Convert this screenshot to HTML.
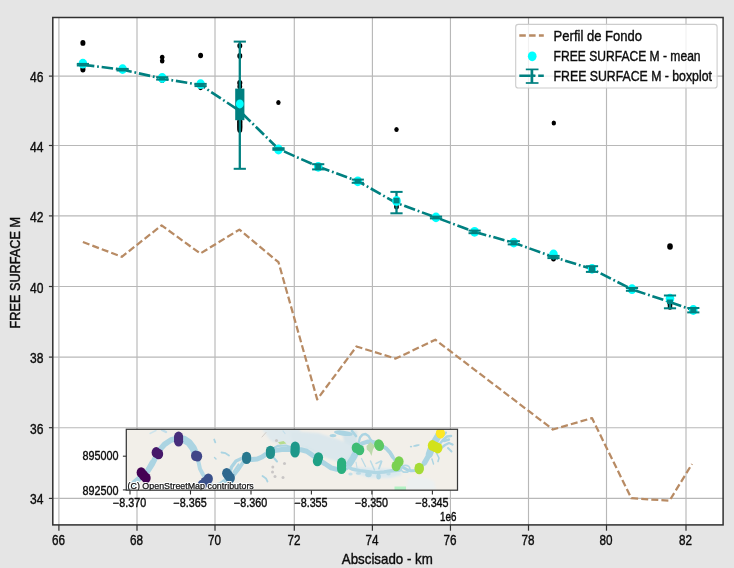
<!DOCTYPE html>
<html><head><meta charset="utf-8"><title>FREE SURFACE M</title>
<style>
html,body{margin:0;padding:0;background:#e5e5e5;}
body{width:734px;height:568px;overflow:hidden;font-family:"Liberation Sans",sans-serif;}
svg{display:block;}
</style></head><body>
<svg width="734" height="568" viewBox="0 0 734 568" font-family="Liberation Sans, sans-serif">
<defs><filter id="soft" x="0" y="0" width="100%" height="100%" filterUnits="userSpaceOnUse" color-interpolation-filters="sRGB"><feGaussianBlur stdDeviation="0.55 0.5"/></filter></defs>
<rect x="0" y="0" width="734" height="568" fill="#e5e5e5"/>
<g filter="url(#soft)">
<rect x="-5" y="-5" width="744" height="578" fill="#e5e5e5"/>
<rect x="52.8" y="17.5" width="670.3000000000001" height="507.4" fill="#ffffff"/>
<g stroke="#b8b8b8" stroke-width="1.15" fill="none">
<line x1="58.90" y1="17.5" x2="58.90" y2="524.9"/>
<line x1="137.00" y1="17.5" x2="137.00" y2="524.9"/>
<line x1="215.00" y1="17.5" x2="215.00" y2="524.9"/>
<line x1="294.30" y1="17.5" x2="294.30" y2="524.9"/>
<line x1="372.40" y1="17.5" x2="372.40" y2="524.9"/>
<line x1="450.45" y1="17.5" x2="450.45" y2="524.9"/>
<line x1="528.50" y1="17.5" x2="528.50" y2="524.9"/>
<line x1="606.50" y1="17.5" x2="606.50" y2="524.9"/>
<line x1="686.00" y1="17.5" x2="686.00" y2="524.9"/>
<line x1="52.8" y1="498.40" x2="723.1" y2="498.40"/>
<line x1="52.8" y1="427.70" x2="723.1" y2="427.70"/>
<line x1="52.8" y1="357.10" x2="723.1" y2="357.10"/>
<line x1="52.8" y1="286.50" x2="723.1" y2="286.50"/>
<line x1="52.8" y1="215.90" x2="723.1" y2="215.90"/>
<line x1="52.8" y1="145.50" x2="723.1" y2="145.50"/>
<line x1="52.8" y1="76.10" x2="723.1" y2="76.10"/>
</g>
<polyline points="82.9,242.0 121.8,256.8 161.6,225.4 200.3,253.5 239.4,229.6 278.5,262.2 317.2,399.4 356.5,346.5 395.7,358.6 435.3,339.7 552.9,429.5 592.0,418.1 631.3,498.2 669.5,500.7 692.0,464.0" fill="none" stroke="#b88b64" stroke-width="2.25" stroke-dasharray="7.0 3.1" stroke-linejoin="round"/>
<g fill="#000000">
<ellipse cx="82.9" cy="42.9" rx="2.55" ry="2.9"/>
<ellipse cx="82.9" cy="69.6" rx="2.55" ry="2.9"/>
<ellipse cx="82.9" cy="67.6" rx="2.38" ry="2.7"/>
<ellipse cx="162.2" cy="57.3" rx="2.29" ry="2.6"/>
<ellipse cx="162.2" cy="61.0" rx="2.29" ry="2.6"/>
<ellipse cx="162.2" cy="80.4" rx="2.29" ry="2.6"/>
<ellipse cx="200.6" cy="55.5" rx="2.46" ry="2.8"/>
<ellipse cx="200.6" cy="87.6" rx="2.29" ry="2.6"/>
<ellipse cx="239.8" cy="45.8" rx="2.46" ry="2.8"/>
<ellipse cx="239.8" cy="55.9" rx="2.46" ry="2.8"/>
<ellipse cx="239.8" cy="82.8" rx="2.55" ry="2.9"/>
<ellipse cx="239.8" cy="86.5" rx="2.38" ry="2.7"/>
<ellipse cx="239.8" cy="121.5" rx="2.64" ry="3.0"/>
<ellipse cx="239.8" cy="123.7" rx="2.64" ry="3.0"/>
<ellipse cx="239.8" cy="126.0" rx="2.64" ry="3.0"/>
<ellipse cx="239.8" cy="128.0" rx="2.55" ry="2.9"/>
<ellipse cx="239.8" cy="129.9" rx="2.46" ry="2.8"/>
<ellipse cx="278.4" cy="102.6" rx="2.20" ry="2.5"/>
<ellipse cx="396.5" cy="129.4" rx="2.20" ry="2.5"/>
<ellipse cx="396.5" cy="206.8" rx="2.38" ry="2.7"/>
<ellipse cx="553.8" cy="122.9" rx="2.20" ry="2.5"/>
<ellipse cx="553.5" cy="258.8" rx="2.38" ry="2.7"/>
<ellipse cx="670.0" cy="246.5" rx="2.82" ry="3.2"/>
<ellipse cx="670.0" cy="304.4" rx="2.38" ry="2.7"/>
<ellipse cx="670.0" cy="307.2" rx="2.29" ry="2.6"/>
</g>
<g stroke="#008080" fill="none">
<line x1="82.9" y1="63.9" x2="82.9" y2="65.5" stroke-width="2.3"/>
<line x1="122.6" y1="68.9" x2="122.6" y2="70.5" stroke-width="2.3"/>
<line x1="162.2" y1="77.2" x2="162.2" y2="79.6" stroke-width="2.3"/>
<line x1="200.6" y1="83.9" x2="200.6" y2="86.1" stroke-width="2.3"/>
<line x1="239.8" y1="41.6" x2="239.8" y2="168.8" stroke-width="2.3"/>
<line x1="278.5" y1="148.2" x2="278.5" y2="149.8" stroke-width="2.3"/>
<line x1="318.2" y1="164.2" x2="318.2" y2="169.4" stroke-width="2.3"/>
<line x1="357.8" y1="179.6" x2="357.8" y2="182.8" stroke-width="2.3"/>
<line x1="396.5" y1="191.9" x2="396.5" y2="213.3" stroke-width="2.3"/>
<line x1="436.0" y1="216.6" x2="436.0" y2="218.4" stroke-width="2.3"/>
<line x1="474.6" y1="230.6" x2="474.6" y2="233.2" stroke-width="2.3"/>
<line x1="513.8" y1="241.2" x2="513.8" y2="244.4" stroke-width="2.3"/>
<line x1="553.5" y1="255.9" x2="553.5" y2="258.1" stroke-width="2.3"/>
<line x1="592.0" y1="266.2" x2="592.0" y2="271.9" stroke-width="2.3"/>
<line x1="632.0" y1="288.0" x2="632.0" y2="290.8" stroke-width="2.3"/>
<line x1="670.0" y1="295.5" x2="670.0" y2="308.3" stroke-width="2.3"/>
<line x1="693.3" y1="308.0" x2="693.3" y2="312.4" stroke-width="2.3"/>
</g>
<polyline points="82.9,64.7 122.6,69.7 162.2,78.6 200.6,85.0 239.8,111.0 278.5,149.0 318.2,166.6 357.8,181.2 396.5,203.0 436.0,217.5 474.6,231.9 513.8,242.8 553.5,257.0 592.0,269.0 632.0,289.4 670.0,302.1 693.3,310.2" fill="none" stroke="#008080" stroke-width="2.6" stroke-dasharray="11.5 2.8 1.8 2.8" stroke-linejoin="round"/>
<g stroke="#008080" fill="none">
<line x1="239.8" y1="88.6" x2="239.8" y2="120.2" stroke-width="9.2"/>
</g>
<g fill="#00ffff">
<ellipse cx="82.9" cy="63.7" rx="4.3" ry="4.9"/>
<ellipse cx="122.6" cy="69.1" rx="4.3" ry="4.9"/>
<ellipse cx="162.2" cy="78.0" rx="4.3" ry="4.9"/>
<ellipse cx="200.6" cy="84.2" rx="4.3" ry="4.9"/>
<ellipse cx="239.8" cy="103.9" rx="3.9" ry="4.5"/>
<ellipse cx="278.5" cy="149.5" rx="4.3" ry="4.9"/>
<ellipse cx="318.2" cy="166.8" rx="4.3" ry="4.9"/>
<ellipse cx="357.8" cy="181.3" rx="4.3" ry="4.9"/>
<ellipse cx="396.5" cy="201.0" rx="4.3" ry="4.9"/>
<ellipse cx="436.0" cy="217.4" rx="4.3" ry="4.9"/>
<ellipse cx="474.6" cy="231.8" rx="4.3" ry="4.9"/>
<ellipse cx="513.8" cy="242.6" rx="4.3" ry="4.9"/>
<ellipse cx="553.5" cy="254.5" rx="4.3" ry="4.9"/>
<ellipse cx="592.0" cy="268.8" rx="4.3" ry="4.9"/>
<ellipse cx="632.0" cy="289.2" rx="4.3" ry="4.9"/>
<ellipse cx="670.0" cy="298.6" rx="4.3" ry="4.9"/>
<ellipse cx="693.3" cy="310.0" rx="4.3" ry="4.9"/>
</g>
<g stroke="#008585" fill="none">
<line x1="82.9" y1="64.0" x2="82.9" y2="65.4" stroke-width="6.0"/>
<line x1="122.6" y1="69.0" x2="122.6" y2="70.4" stroke-width="6.0"/>
<line x1="162.2" y1="77.4" x2="162.2" y2="79.4" stroke-width="6.0"/>
<line x1="200.6" y1="84.0" x2="200.6" y2="86.0" stroke-width="6.0"/>
<line x1="278.5" y1="148.3" x2="278.5" y2="149.7" stroke-width="6.0"/>
<line x1="318.2" y1="164.6" x2="318.2" y2="169.0" stroke-width="6.0"/>
<line x1="357.8" y1="179.9" x2="357.8" y2="182.5" stroke-width="6.0"/>
<line x1="396.5" y1="197.8" x2="396.5" y2="203.4" stroke-width="6.0"/>
<line x1="436.0" y1="216.7" x2="436.0" y2="218.3" stroke-width="6.0"/>
<line x1="474.6" y1="230.8" x2="474.6" y2="233.0" stroke-width="6.0"/>
<line x1="513.8" y1="241.4" x2="513.8" y2="244.2" stroke-width="6.0"/>
<line x1="553.5" y1="256.0" x2="553.5" y2="258.0" stroke-width="6.0"/>
<line x1="592.0" y1="266.6" x2="592.0" y2="271.5" stroke-width="6.0"/>
<line x1="632.0" y1="288.2" x2="632.0" y2="290.6" stroke-width="6.0"/>
<line x1="670.0" y1="299.5" x2="670.0" y2="304.0" stroke-width="6.0"/>
<line x1="693.3" y1="308.3" x2="693.3" y2="312.1" stroke-width="6.0"/>
</g>
<g stroke="#008080" stroke-width="2.0" fill="none">
<line x1="76.80000000000001" y1="63.9" x2="89.0" y2="63.9"/>
<line x1="76.80000000000001" y1="65.5" x2="89.0" y2="65.5"/>
<line x1="116.5" y1="68.9" x2="128.7" y2="68.9"/>
<line x1="116.5" y1="70.5" x2="128.7" y2="70.5"/>
<line x1="156.1" y1="77.2" x2="168.29999999999998" y2="77.2"/>
<line x1="156.1" y1="79.6" x2="168.29999999999998" y2="79.6"/>
<line x1="194.5" y1="83.9" x2="206.7" y2="83.9"/>
<line x1="194.5" y1="86.1" x2="206.7" y2="86.1"/>
<line x1="233.70000000000002" y1="41.6" x2="245.9" y2="41.6"/>
<line x1="233.70000000000002" y1="168.8" x2="245.9" y2="168.8"/>
<line x1="272.4" y1="148.2" x2="284.6" y2="148.2"/>
<line x1="272.4" y1="149.8" x2="284.6" y2="149.8"/>
<line x1="312.09999999999997" y1="164.2" x2="324.3" y2="164.2"/>
<line x1="312.09999999999997" y1="169.4" x2="324.3" y2="169.4"/>
<line x1="351.7" y1="179.6" x2="363.90000000000003" y2="179.6"/>
<line x1="351.7" y1="182.8" x2="363.90000000000003" y2="182.8"/>
<line x1="390.4" y1="191.9" x2="402.6" y2="191.9"/>
<line x1="390.4" y1="213.3" x2="402.6" y2="213.3"/>
<line x1="429.9" y1="216.6" x2="442.1" y2="216.6"/>
<line x1="429.9" y1="218.4" x2="442.1" y2="218.4"/>
<line x1="468.5" y1="230.6" x2="480.70000000000005" y2="230.6"/>
<line x1="468.5" y1="233.2" x2="480.70000000000005" y2="233.2"/>
<line x1="507.69999999999993" y1="241.2" x2="519.9" y2="241.2"/>
<line x1="507.69999999999993" y1="244.4" x2="519.9" y2="244.4"/>
<line x1="547.4" y1="255.9" x2="559.6" y2="255.9"/>
<line x1="547.4" y1="258.1" x2="559.6" y2="258.1"/>
<line x1="585.9" y1="266.2" x2="598.1" y2="266.2"/>
<line x1="585.9" y1="271.9" x2="598.1" y2="271.9"/>
<line x1="625.9" y1="288.0" x2="638.1" y2="288.0"/>
<line x1="625.9" y1="290.8" x2="638.1" y2="290.8"/>
<line x1="663.9" y1="295.5" x2="676.1" y2="295.5"/>
<line x1="663.9" y1="308.3" x2="676.1" y2="308.3"/>
<line x1="687.1999999999999" y1="308.0" x2="699.4" y2="308.0"/>
<line x1="687.1999999999999" y1="312.4" x2="699.4" y2="312.4"/>
</g>
<clipPath id="insetclip"><rect x="126.3" y="429.3" width="331.2" height="60.89999999999998"/></clipPath>
<g clip-path="url(#insetclip)">
<rect x="126.3" y="429.3" width="331.2" height="60.89999999999998" fill="#f2efe9"/>
<filter id="wsoft" x="100" y="400" width="400" height="120" filterUnits="userSpaceOnUse"><feGaussianBlur stdDeviation="1.3"/></filter>
<filter id="nsoft" x="100" y="400" width="400" height="120" filterUnits="userSpaceOnUse"><feGaussianBlur stdDeviation="0.5"/></filter>
<g filter="url(#wsoft)">
<ellipse cx="286" cy="437.2" rx="17" ry="6.4" fill="#d0dfe7"/>
<polygon points="262,429 300,429 302,442 290,445 270,440" fill="#dfe9ed"/>
<polygon points="298,441 310,445 330,453 348,452 354,442 356,458 346,464 330,459 312,452 300,447" fill="#d8e6eb"/>
<polygon points="342,431 357,431 357,458 349,460 345,448" fill="#d5e4ea"/>
<polygon points="408,478 420,476 434,481 436,490 406,490" fill="#ecf0f0"/>
<polygon points="354,467 398,469 402,475 390,478 370,478 354,473" fill="#dbe9ef"/>
<polygon points="290,431 318,433 340,440 352,446 350,456 336,460 322,455 308,446 292,443" fill="#dbe7ec"/>
</g>
<polyline points="126.5,490.5 133.2,483.6 141,477 147.3,471.6 152,464.5 155.9,456.7 160,449.5 164.5,444.4 171,440 178,438.3 184,439.5 189,442.6 193,448 196.3,455.4" fill="none" stroke="#abd4e2" stroke-width="5.6" stroke-linecap="round" stroke-linejoin="round" />
<polyline points="196.3,455.4 198.5,462 200,468.9 203,474.5 206.2,479.5 209.5,484.5" fill="none" stroke="#b2d8e5" stroke-width="4.0" stroke-linecap="round" stroke-linejoin="round" />
<polyline points="209.5,484.5 214,486.5 220.5,484.5 226,480 229,475" fill="none" stroke="#abd4e2" stroke-width="4.6" stroke-linecap="round" stroke-linejoin="round" />
<polyline points="184,439.5 189,442.6 193,448 196.3,455.4" fill="none" stroke="#abd4e2" stroke-width="7.4" stroke-linecap="round" stroke-linejoin="round" />
<polyline points="140,480 146,470 151,461" fill="none" stroke="#abd4e2" stroke-width="1.6" stroke-linecap="round" stroke-linejoin="round" />
<polyline points="229,475 231.5,467 236,461 242,458.3 246.6,458" fill="none" stroke="#abd4e2" stroke-width="3.4" stroke-linecap="round" stroke-linejoin="round" />
<polyline points="232,477.5 238,470 243,462.5 246.6,458.5" fill="none" stroke="#abd4e2" stroke-width="3.6" stroke-linecap="round" stroke-linejoin="round" />
<polyline points="233.5,472 238.5,464.5" fill="none" stroke="#abd4e2" stroke-width="2.2" stroke-linecap="round" stroke-linejoin="round" />
<polyline points="246.6,458 252,459.6 257.3,459 262,457 266,454.2 270.4,452.4 276,450.2 281.8,449.4 288,449.2 295,449.6 301,449.8 306.7,451.2 312.8,455.4 318,459.3 322,462 325,463.7 331.2,467.9 336,469.2 339.8,469.2 345,467.7 348.3,465.2 351,461.5 353.2,457.9 355.5,453.5 356.9,450.5 358,448" fill="none" stroke="#abd4e2" stroke-width="5.0" stroke-linecap="round" stroke-linejoin="round" />
<polyline points="339.8,469.2 345,467.7 348.3,465.2 351,461.5 353.2,457.9 355.5,453.5 356.9,450.5" fill="none" stroke="#abd4e2" stroke-width="6.6" stroke-linecap="round" stroke-linejoin="round" />
<polyline points="272,449 278,445.8 286,445.5 292,447.5" fill="none" stroke="#abd4e2" stroke-width="2.2" stroke-linecap="round" stroke-linejoin="round" />
<polyline points="358,448 358.8,442 360,437.5 362.5,434.6 365.5,434 368.5,436 370.8,440 373.5,442.5" fill="none" stroke="#abd4e2" stroke-width="2.4" stroke-linecap="round" stroke-linejoin="round" />
<polyline points="358,448 362,443.4 368,441.6 374,442.4 379.1,445.2" fill="none" stroke="#abd4e2" stroke-width="4.2" stroke-linecap="round" stroke-linejoin="round" />
<polyline points="379.1,445.2 383,446.5 386.5,448.7 390,452.5 392.6,456.7 395,460.5 397.5,463.8 400.5,466 403.6,467.7 407,469.6 411,470.8 415,470.6 419.2,468.5" fill="none" stroke="#abd4e2" stroke-width="3.0" stroke-linecap="round" stroke-linejoin="round" />
<polyline points="383,446.5 386.5,448.7 390,452.5 392.6,456.7" fill="none" stroke="#abd4e2" stroke-width="3.8" stroke-linecap="round" stroke-linejoin="round" />
<polyline points="419.2,468.5 422,466 424.5,462.8" fill="none" stroke="#abd4e2" stroke-width="3.4" stroke-linecap="round" stroke-linejoin="round" />
<polyline points="424.5,462.8 427,458.5 429.4,454.2" fill="none" stroke="#abd4e2" stroke-width="5.4" stroke-linecap="round" stroke-linejoin="round" />
<polyline points="429.4,454.2 431,449.5 432.8,445.6 435.5,440.5 438.5,435.5 440.4,433" fill="none" stroke="#abd4e2" stroke-width="7.2" stroke-linecap="round" stroke-linejoin="round" />
<polyline points="438,446 443,440 447,436.5 451,436" fill="none" stroke="#abd4e2" stroke-width="2.6" stroke-linecap="round" stroke-linejoin="round" />
<polyline points="440,449 445,445 449,443 452.5,444.5" fill="none" stroke="#abd4e2" stroke-width="2.4" stroke-linecap="round" stroke-linejoin="round" />
<polyline points="443,436 446,432.5" fill="none" stroke="#abd4e2" stroke-width="2.2" stroke-linecap="round" stroke-linejoin="round" />
<polyline points="448,448 451.5,451.5" fill="none" stroke="#abd4e2" stroke-width="2.0" stroke-linecap="round" stroke-linejoin="round" />
<polyline points="444,441 449,439.5" fill="none" stroke="#abd4e2" stroke-width="2.4" stroke-linecap="round" stroke-linejoin="round" />
<polyline points="436,452 439,458 438,461.5" fill="none" stroke="#abd4e2" stroke-width="1.6" stroke-linecap="round" stroke-linejoin="round" />
<polyline points="432,459 433.5,464" fill="none" stroke="#abd4e2" stroke-width="1.4" stroke-linecap="round" stroke-linejoin="round" />
<g filter="url(#nsoft)">
<polyline points="346,466.3 352,469 360,470.6 368,471.6 376,472.6 384,472 392,470.8 400,470" fill="none" stroke="#b1d7e4" stroke-width="3.4" stroke-linecap="round" stroke-linejoin="round" />
<ellipse cx="368.5" cy="474.6" rx="3.3" ry="2.6" fill="#b1d7e4"/>
<ellipse cx="378.6" cy="476.4" rx="2.3" ry="3.0" fill="#b1d7e4"/>
<ellipse cx="358.5" cy="473.2" rx="2.6" ry="1.5" fill="#bcdce7"/>
<ellipse cx="350.5" cy="474.0" rx="2.2" ry="1.6" fill="#c3dfe8"/>
<ellipse cx="388.5" cy="474.0" rx="2.2" ry="1.4" fill="#bcdce7"/>
<polyline points="361.5,458.5 365.5,466.5" fill="none" stroke="#b9dbe6" stroke-width="1.3" stroke-linecap="round" stroke-linejoin="round" />
<polyline points="370.5,461 374.5,470" fill="none" stroke="#b9dbe6" stroke-width="1.5" stroke-linecap="round" stroke-linejoin="round" />
<polyline points="381.5,461.5 379,468.5" fill="none" stroke="#b3d8e5" stroke-width="1.9" stroke-linecap="round" stroke-linejoin="round" />
<polyline points="376,463.5 381,461" fill="none" stroke="#b9dbe6" stroke-width="1.5" stroke-linecap="round" stroke-linejoin="round" />
<polyline points="356,462 357,468" fill="none" stroke="#c3dfe8" stroke-width="1.2" stroke-linecap="round" stroke-linejoin="round" />
<ellipse cx="405.5" cy="468.8" rx="4.4" ry="3.4" fill="none" stroke="#b1d7e4" stroke-width="1.7"/>
</g>
<ellipse cx="343.4" cy="433.2" rx="9.5" ry="2.6" fill="#abd4e2" transform="rotate(8 343.4 433.2)"/>
<ellipse cx="333" cy="435.6" rx="3.4" ry="1.6" fill="#abd4e2"/>
<polyline points="221.5,452.5 225.5,453.2 229,455.5" fill="none" stroke="#abd4e2" stroke-width="1.8" stroke-linecap="round" stroke-linejoin="round" />
<polyline points="214.2,439.5 215.3,442.4" fill="none" stroke="#abd4e2" stroke-width="1.8" stroke-linecap="round" stroke-linejoin="round" />
<polyline points="262.5,476 266,478.5 267.5,481.5" fill="none" stroke="#abd4e2" stroke-width="1.8" stroke-linecap="round" stroke-linejoin="round" />
<polyline points="214.5,457.5 216,459" fill="none" stroke="#abd4e2" stroke-width="1.4" stroke-linecap="round" stroke-linejoin="round" />
<polyline points="274,458 277,461.5" fill="none" stroke="#abd4e2" stroke-width="2.0" stroke-linecap="round" stroke-linejoin="round" />
<ellipse cx="416.5" cy="445.5" rx="3.4" ry="1.1" fill="#abd4e2" transform="rotate(-12 416.5 445.5)"/>
<ellipse cx="411" cy="446.6" rx="1.2" ry="0.9" fill="#abd4e2"/>
<polyline points="162,430 166,432" fill="none" stroke="#c2deea" stroke-width="2.4" stroke-linecap="round" stroke-linejoin="round" />
<polyline points="156,430.5 150,433.5" fill="none" stroke="#cfe4ec" stroke-width="1.4" stroke-linecap="round" stroke-linejoin="round" />
<polyline points="283,431 285,433.5" fill="none" stroke="#c2deea" stroke-width="1.2" stroke-linecap="round" stroke-linejoin="round" />
<polyline points="352,431 356,436" fill="none" stroke="#abd4e2" stroke-width="2.6" stroke-linecap="round" stroke-linejoin="round" />
<polygon points="366.5,446 370.5,442 375,446 373,449.5 371.5,456 369.5,452 366.8,449.5" fill="#bcd9ab"/>
<polygon points="278,442.2 283.5,441 286.5,443.6 280,444.4" fill="#b6dc8e"/>
<polygon points="394.5,486.6 406,486.6 406,490.5 394.5,490.5" fill="#b3f2c4"/>
<ellipse cx="272.5" cy="472" rx="1.5" ry="1.6" fill="#c9c6c6"/>
<ellipse cx="275" cy="476.5" rx="1.5" ry="1.6" fill="#c9c6c6"/>
<ellipse cx="284.5" cy="463.5" rx="1.5" ry="1.6" fill="#c9c6c6"/>
<ellipse cx="272.8" cy="467" rx="1.5" ry="1.6" fill="#c9c6c6"/>
<ellipse cx="283" cy="477.5" rx="1.5" ry="1.6" fill="#c9c6c6"/>
<ellipse cx="276.5" cy="440.5" rx="1.5" ry="1.6" fill="#c9c6c6"/>
<polyline points="262,437 266,432.5" fill="none" stroke="#cfcac4" stroke-width="0.9" stroke-linecap="round" stroke-linejoin="round" />
<ellipse cx="141.2" cy="472.6" rx="4.6" ry="5.3" fill="#440154"/>
<ellipse cx="143.7" cy="475.4" rx="4.6" ry="5.3" fill="#440154"/>
<ellipse cx="146.1" cy="478.1" rx="4.6" ry="5.3" fill="#440154"/>
<ellipse cx="156.2" cy="452.4" rx="4.6" ry="5.3" fill="#46186a"/>
<ellipse cx="158.6" cy="454.0" rx="4.6" ry="5.3" fill="#46186a"/>
<ellipse cx="178.6" cy="436.9" rx="4.6" ry="5.3" fill="#472d7b"/>
<ellipse cx="178.6" cy="439.0" rx="4.6" ry="5.3" fill="#472d7b"/>
<ellipse cx="178.6" cy="441.2" rx="4.6" ry="5.3" fill="#472d7b"/>
<ellipse cx="195.6" cy="455.8" rx="4.6" ry="5.3" fill="#404688"/>
<ellipse cx="197.6" cy="456.2" rx="4.6" ry="5.3" fill="#404688"/>
<ellipse cx="208.3" cy="478.7" rx="4.6" ry="5.3" fill="#3b518b"/>
<ellipse cx="205.2" cy="482.0" rx="4.6" ry="5.3" fill="#3b518b"/>
<ellipse cx="202.3" cy="484.8" rx="4.6" ry="5.3" fill="#3b518b"/>
<ellipse cx="226.7" cy="473.2" rx="4.6" ry="5.3" fill="#30688e"/>
<ellipse cx="228.5" cy="475.6" rx="4.6" ry="5.3" fill="#30688e"/>
<ellipse cx="230.3" cy="478.1" rx="4.6" ry="5.3" fill="#30688e"/>
<ellipse cx="246.6" cy="457.0" rx="4.6" ry="5.3" fill="#29788e"/>
<ellipse cx="246.6" cy="458.8" rx="4.6" ry="5.3" fill="#29788e"/>
<ellipse cx="270.4" cy="451.0" rx="4.6" ry="5.3" fill="#21908c"/>
<ellipse cx="270.4" cy="453.8" rx="4.6" ry="5.3" fill="#21908c"/>
<ellipse cx="295.2" cy="446.7" rx="4.6" ry="5.3" fill="#1e988a"/>
<ellipse cx="295.1" cy="449.5" rx="4.6" ry="5.3" fill="#1e988a"/>
<ellipse cx="295.0" cy="452.2" rx="4.6" ry="5.3" fill="#1e988a"/>
<ellipse cx="318.5" cy="457.6" rx="4.6" ry="5.3" fill="#20a186"/>
<ellipse cx="317.4" cy="461.0" rx="4.6" ry="5.3" fill="#20a186"/>
<ellipse cx="341.6" cy="462.9" rx="4.6" ry="5.3" fill="#2ab07f"/>
<ellipse cx="341.6" cy="465.8" rx="4.6" ry="5.3" fill="#2ab07f"/>
<ellipse cx="341.6" cy="468.7" rx="4.6" ry="5.3" fill="#2ab07f"/>
<ellipse cx="356.3" cy="447.8" rx="4.6" ry="5.3" fill="#3dbc74"/>
<ellipse cx="359.7" cy="450.0" rx="4.6" ry="5.3" fill="#3dbc74"/>
<ellipse cx="378.7" cy="444.6" rx="4.6" ry="5.3" fill="#5cc863"/>
<ellipse cx="379.5" cy="445.8" rx="4.6" ry="5.3" fill="#5cc863"/>
<ellipse cx="399.0" cy="461.6" rx="4.6" ry="5.3" fill="#7ad151"/>
<ellipse cx="396.2" cy="466.0" rx="4.6" ry="5.3" fill="#7ad151"/>
<ellipse cx="419.2" cy="468.0" rx="4.6" ry="5.3" fill="#a5db36"/>
<ellipse cx="419.2" cy="469.0" rx="4.6" ry="5.3" fill="#a5db36"/>
<ellipse cx="432.4" cy="445.4" rx="4.6" ry="5.3" fill="#d2e21b"/>
<ellipse cx="435.1" cy="446.8" rx="4.6" ry="5.3" fill="#d2e21b"/>
<ellipse cx="437.8" cy="448.1" rx="4.6" ry="5.3" fill="#d2e21b"/>
<ellipse cx="440.4" cy="433.2" rx="4.6" ry="5.3" fill="#fde725"/>
<text x="127.6" y="489.4" font-size="8.7" fill="#ffffff" stroke="#ffffff" stroke-width="2.2" stroke-linejoin="round" textLength="126.2" lengthAdjust="spacingAndGlyphs">(C) OpenStreetMap contributors</text>
<text x="127.6" y="489.4" font-size="8.7" fill="#111111" stroke="#111111" stroke-width="0.25" textLength="126.2" lengthAdjust="spacingAndGlyphs">(C) OpenStreetMap contributors</text>
</g>
<rect x="126.3" y="429.3" width="331.2" height="60.89999999999998" fill="none" stroke="#383838" stroke-width="1.25"/>
<g stroke="#303030" stroke-width="1.1">
<line x1="130.0" y1="490.2" x2="130.0" y2="494.5"/>
<line x1="190.5" y1="490.2" x2="190.5" y2="494.5"/>
<line x1="251.0" y1="490.2" x2="251.0" y2="494.5"/>
<line x1="311.4" y1="490.2" x2="311.4" y2="494.5"/>
<line x1="371.9" y1="490.2" x2="371.9" y2="494.5"/>
<line x1="432.4" y1="490.2" x2="432.4" y2="494.5"/>
<line x1="126.3" y1="456.2" x2="122.89999999999999" y2="456.2"/>
<line x1="126.3" y1="489.9" x2="122.89999999999999" y2="489.9"/>
</g>
<text x="129.60" y="507.20" font-size="11.9" text-anchor="middle" fill="#0c0c0c" stroke="#0c0c0c" stroke-width="0.38" textLength="33.2" lengthAdjust="spacingAndGlyphs">−8.370</text>
<text x="190.10" y="507.20" font-size="11.9" text-anchor="middle" fill="#0c0c0c" stroke="#0c0c0c" stroke-width="0.38" textLength="33.2" lengthAdjust="spacingAndGlyphs">−8.365</text>
<text x="250.60" y="507.20" font-size="11.9" text-anchor="middle" fill="#0c0c0c" stroke="#0c0c0c" stroke-width="0.38" textLength="33.2" lengthAdjust="spacingAndGlyphs">−8.360</text>
<text x="311.00" y="507.20" font-size="11.9" text-anchor="middle" fill="#0c0c0c" stroke="#0c0c0c" stroke-width="0.38" textLength="33.2" lengthAdjust="spacingAndGlyphs">−8.355</text>
<text x="371.50" y="507.20" font-size="11.9" text-anchor="middle" fill="#0c0c0c" stroke="#0c0c0c" stroke-width="0.38" textLength="33.2" lengthAdjust="spacingAndGlyphs">−8.350</text>
<text x="432.00" y="507.20" font-size="11.9" text-anchor="middle" fill="#0c0c0c" stroke="#0c0c0c" stroke-width="0.38" textLength="33.2" lengthAdjust="spacingAndGlyphs">−8.345</text>
<text x="118.40" y="460.40" font-size="11.9" text-anchor="end" fill="#0c0c0c" stroke="#0c0c0c" stroke-width="0.38" textLength="36.0" lengthAdjust="spacingAndGlyphs">895000</text>
<text x="118.40" y="494.70" font-size="11.9" text-anchor="end" fill="#0c0c0c" stroke="#0c0c0c" stroke-width="0.38" textLength="36.0" lengthAdjust="spacingAndGlyphs">892500</text>
<text x="456.40" y="520.80" font-size="11.9" text-anchor="end" fill="#0c0c0c" stroke="#0c0c0c" stroke-width="0.38" textLength="16.3" lengthAdjust="spacingAndGlyphs">1e6</text>
<rect x="52.8" y="17.5" width="670.3000000000001" height="507.4" fill="none" stroke="#303030" stroke-width="1.5"/>
<g stroke="#303030" stroke-width="1.2">
<line x1="58.90" y1="524.9" x2="58.90" y2="530.6999999999999"/>
<line x1="137.00" y1="524.9" x2="137.00" y2="530.6999999999999"/>
<line x1="215.00" y1="524.9" x2="215.00" y2="530.6999999999999"/>
<line x1="294.30" y1="524.9" x2="294.30" y2="530.6999999999999"/>
<line x1="372.40" y1="524.9" x2="372.40" y2="530.6999999999999"/>
<line x1="450.45" y1="524.9" x2="450.45" y2="530.6999999999999"/>
<line x1="528.50" y1="524.9" x2="528.50" y2="530.6999999999999"/>
<line x1="606.50" y1="524.9" x2="606.50" y2="530.6999999999999"/>
<line x1="686.00" y1="524.9" x2="686.00" y2="530.6999999999999"/>
<line x1="52.8" y1="498.40" x2="48.9" y2="498.40"/>
<line x1="52.8" y1="427.70" x2="48.9" y2="427.70"/>
<line x1="52.8" y1="357.10" x2="48.9" y2="357.10"/>
<line x1="52.8" y1="286.50" x2="48.9" y2="286.50"/>
<line x1="52.8" y1="215.90" x2="48.9" y2="215.90"/>
<line x1="52.8" y1="145.50" x2="48.9" y2="145.50"/>
<line x1="52.8" y1="76.10" x2="48.9" y2="76.10"/>
</g>
<text x="58.50" y="545.40" font-size="15.0" text-anchor="middle" fill="#0c0c0c" stroke="#0c0c0c" stroke-width="0.4" textLength="13.0" lengthAdjust="spacingAndGlyphs" >66</text>
<text x="136.60" y="545.40" font-size="15.0" text-anchor="middle" fill="#0c0c0c" stroke="#0c0c0c" stroke-width="0.4" textLength="13.0" lengthAdjust="spacingAndGlyphs" >68</text>
<text x="214.60" y="545.40" font-size="15.0" text-anchor="middle" fill="#0c0c0c" stroke="#0c0c0c" stroke-width="0.4" textLength="13.0" lengthAdjust="spacingAndGlyphs" >70</text>
<text x="293.90" y="545.40" font-size="15.0" text-anchor="middle" fill="#0c0c0c" stroke="#0c0c0c" stroke-width="0.4" textLength="13.0" lengthAdjust="spacingAndGlyphs" >72</text>
<text x="372.00" y="545.40" font-size="15.0" text-anchor="middle" fill="#0c0c0c" stroke="#0c0c0c" stroke-width="0.4" textLength="13.0" lengthAdjust="spacingAndGlyphs" >74</text>
<text x="450.05" y="545.40" font-size="15.0" text-anchor="middle" fill="#0c0c0c" stroke="#0c0c0c" stroke-width="0.4" textLength="13.0" lengthAdjust="spacingAndGlyphs" >76</text>
<text x="528.10" y="545.40" font-size="15.0" text-anchor="middle" fill="#0c0c0c" stroke="#0c0c0c" stroke-width="0.4" textLength="13.0" lengthAdjust="spacingAndGlyphs" >78</text>
<text x="606.10" y="545.40" font-size="15.0" text-anchor="middle" fill="#0c0c0c" stroke="#0c0c0c" stroke-width="0.4" textLength="13.0" lengthAdjust="spacingAndGlyphs" >80</text>
<text x="685.60" y="545.40" font-size="15.0" text-anchor="middle" fill="#0c0c0c" stroke="#0c0c0c" stroke-width="0.4" textLength="13.0" lengthAdjust="spacingAndGlyphs" >82</text>
<text x="43.40" y="504.40" font-size="15.0" text-anchor="end" fill="#0c0c0c" stroke="#0c0c0c" stroke-width="0.4" textLength="13.4" lengthAdjust="spacingAndGlyphs" >34</text>
<text x="43.40" y="433.70" font-size="15.0" text-anchor="end" fill="#0c0c0c" stroke="#0c0c0c" stroke-width="0.4" textLength="13.4" lengthAdjust="spacingAndGlyphs" >36</text>
<text x="43.40" y="363.10" font-size="15.0" text-anchor="end" fill="#0c0c0c" stroke="#0c0c0c" stroke-width="0.4" textLength="13.4" lengthAdjust="spacingAndGlyphs" >38</text>
<text x="43.40" y="292.50" font-size="15.0" text-anchor="end" fill="#0c0c0c" stroke="#0c0c0c" stroke-width="0.4" textLength="13.4" lengthAdjust="spacingAndGlyphs" >40</text>
<text x="43.40" y="221.90" font-size="15.0" text-anchor="end" fill="#0c0c0c" stroke="#0c0c0c" stroke-width="0.4" textLength="13.4" lengthAdjust="spacingAndGlyphs" >42</text>
<text x="43.40" y="151.50" font-size="15.0" text-anchor="end" fill="#0c0c0c" stroke="#0c0c0c" stroke-width="0.4" textLength="13.4" lengthAdjust="spacingAndGlyphs" >44</text>
<text x="43.40" y="82.10" font-size="15.0" text-anchor="end" fill="#0c0c0c" stroke="#0c0c0c" stroke-width="0.4" textLength="13.4" lengthAdjust="spacingAndGlyphs" >46</text>
<text x="387.30" y="564.10" font-size="15.0" text-anchor="middle" fill="#0c0c0c" stroke="#0c0c0c" stroke-width="0.4" textLength="91.0" lengthAdjust="spacingAndGlyphs" >Abscisado - km</text>
<text transform="translate(20.2 272.7) rotate(-90)" font-size="14.0" text-anchor="middle" fill="#0c0c0c" stroke="#0c0c0c" stroke-width="0.4" textLength="111.8" lengthAdjust="spacingAndGlyphs">FREE SURFACE M</text>
<g>
<rect x="515.7" y="24.4" width="201.4" height="63.6" rx="2.6" ry="2.6" fill="#ffffff" fill-opacity="0.8" stroke="#cccccc" stroke-width="1.1"/>
<line x1="519.3" y1="35.5" x2="543.8" y2="35.5" stroke="#b88b64" stroke-width="2.4" stroke-dasharray="6.5 3.3"/>
<ellipse cx="532.2" cy="56.3" rx="4.35" ry="4.85" fill="#00ffff"/>
<line x1="519.3" y1="75.7" x2="543.8" y2="75.7" stroke="#008080" stroke-width="2.6" stroke-dasharray="11.5 2.8 1.8 2.8"/>
<line x1="531.9" y1="69.4" x2="531.9" y2="83.0" stroke="#008080" stroke-width="2.7"/>
<line x1="525.8" y1="69.4" x2="538.5" y2="69.4" stroke="#008080" stroke-width="1.7"/>
<line x1="525.8" y1="83.0" x2="538.5" y2="83.0" stroke="#008080" stroke-width="1.7"/>
<path d="M531.9 73.6 L535.6 75.7 L531.9 77.8Z" fill="#008080"/>
<text x="553.60" y="40.60" font-size="15.0" text-anchor="start" fill="#0c0c0c" stroke="#0c0c0c" stroke-width="0.4" textLength="88.4" lengthAdjust="spacingAndGlyphs" >Perfil de Fondo</text>
<text x="553.60" y="60.60" font-size="15.0" text-anchor="start" fill="#0c0c0c" stroke="#0c0c0c" stroke-width="0.4" textLength="147.0" lengthAdjust="spacingAndGlyphs" >FREE SURFACE M - mean</text>
<text x="553.60" y="80.80" font-size="15.0" text-anchor="start" fill="#0c0c0c" stroke="#0c0c0c" stroke-width="0.4" textLength="158.3" lengthAdjust="spacingAndGlyphs" >FREE SURFACE M - boxplot</text>
</g>
</g>
</svg>
</body></html>
